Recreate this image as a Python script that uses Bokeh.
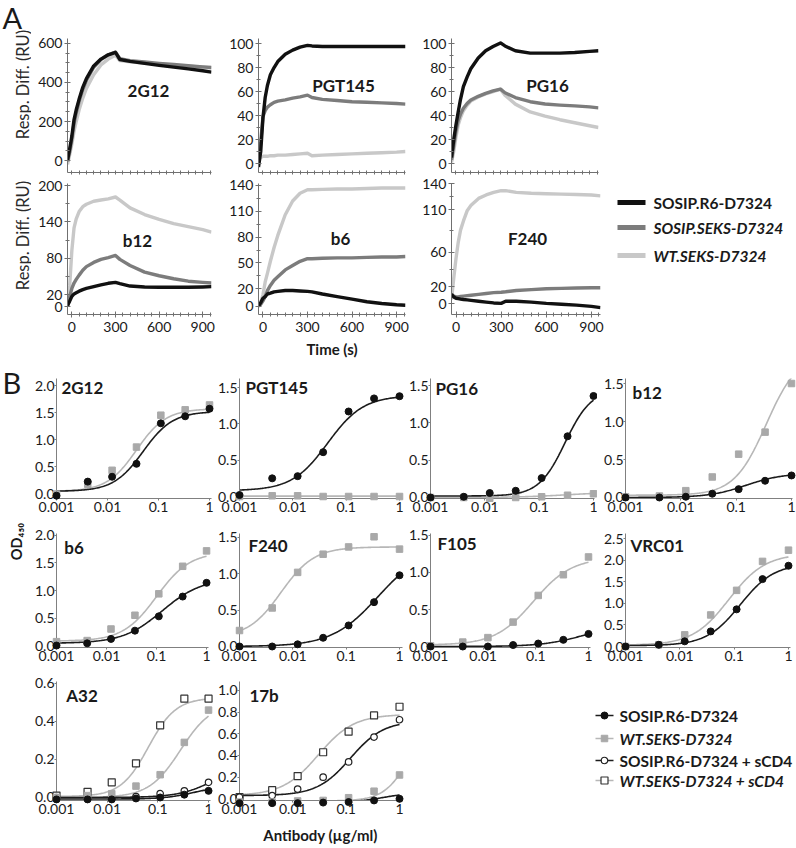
import numpy as np
from bokeh.plotting import figure
from bokeh.models import (Range1d, FixedTicker, PrintfTickFormatter, CustomJSTickFormatter,
                          Label, Spacer)
from bokeh.layouts import column, row
from bokeh.core.properties import value
from bokeh.embed import file_html
from bokeh.resources import INLINE

FONT = "Lato"
TEXT_COLOR = "#1a1a1a"
AXIS_COLOR = "#707070"

# ================= Panel A: SPR sensorgrams (Resp. Diff., RU) =================
TIME_S = [-30, -15, 0, 15, 30, 50, 75, 100, 150, 200, 250, 300, 330,
          400, 500, 600, 700, 800, 900, 960]
TIME_TICKS = [0, 300, 600, 900]
A_SERIES = ["SOSIP.R6-D7324", "SOSIP.SEKS-D7324", "WT.SEKS-D7324"]
A_COLORS = ["#111111", "#7c7c7c", "#c8c8c8"]

spr_2g12_r6 = [0, 60, 125, 210, 260, 315, 375, 420, 485, 520, 542, 554, 518, 508, 498, 488, 479, 470, 460, 453]
spr_2g12_seks = [-5, 45, 110, 190, 245, 305, 365, 410, 478, 518, 542, 556, 522, 512, 505, 498, 492, 486, 480, 477]
spr_2g12_wt = [-20, 30, 85, 150, 200, 260, 320, 370, 440, 490, 520, 540, 512, 506, 500, 494, 488, 483, 478, 475]

spr_pgt145_r6 = [-3, 10, 38, 55, 65, 74, 80, 85, 91, 94.5, 97, 98.5, 98, 97.5, 97.5, 97.5, 97.5, 97.5, 97.5, 97.5]
spr_pgt145_seks = [3, 18, 39, 44, 47, 49, 51, 52, 53, 54.5, 55.5, 57, 55, 53.5, 52.5, 51.5, 51, 50.5, 50, 49.5]
spr_pgt145_wt = [3, 5, 6, 6, 6, 6.5, 6.5, 7, 7, 7.5, 8, 8.5, 6.5, 7, 7.5, 8, 8.5, 9, 9.5, 10]

spr_pg16_r6 = [5, 20, 32, 43, 53, 64, 72, 79, 88, 94, 97.5, 100.5, 98, 94, 92, 92, 92, 92.5, 93.5, 94]
spr_pg16_seks = [3, 15, 27, 36, 41, 46, 50, 53, 56, 58.5, 60.5, 62, 59, 55, 51.5, 49.6, 48.7, 48, 47.2, 46.4]
spr_pg16_wt = [1, 10, 22, 32, 38, 44, 48.5, 52, 55.5, 58, 60, 62, 57, 49.5, 43, 39.5, 36.5, 34, 31.5, 30]

spr_b12_r6 = [2, 9, 17, 21, 23, 25.5, 28, 30, 33, 36, 38.5, 40, 38, 34, 32.5, 32, 32, 32, 32.5, 33]
spr_b12_seks = [0, 17, 30, 39, 45, 52, 60, 66, 73, 78, 81, 84.5, 78, 68, 57, 51, 46, 42, 40, 39]
spr_b12_wt = [0, 35, 93, 130, 145, 157, 165, 169, 174, 176, 178, 181, 176, 163, 152, 144, 137, 132, 127, 123]

spr_b6_r6 = [0, 4, 9, 11, 14, 15, 16.5, 17, 18, 18, 17.5, 17, 16.5, 14, 11, 8, 5, 3, 1.5, 1]
spr_b6_seks = [0, 2, 6, 11, 18, 24, 30, 34, 42, 47, 52, 55, 55, 55.5, 56, 56, 56.5, 57, 57, 57.5]
spr_b6_wt = [0, 4, 13, 28, 38, 52, 68, 82, 106, 122, 131, 135, 135, 135.5, 136, 136, 136.5, 137, 137, 137]

spr_f240_r6 = [11, 8, 6.5, 6, 5.5, 5, 4.5, 4, 3, 2, 1, 0.5, 3, 3, 2, 0.5, -0.5, -1.5, -3, -4.5]
spr_f240_seks = [11, 9, 8, 8, 8.5, 9, 9.5, 10, 11, 12, 13, 13.5, 14, 15.5, 16.5, 17.5, 18, 18.5, 18.7, 18.7]
spr_f240_wt = [5, 30, 53, 72, 86, 97, 109, 115, 123, 127, 130, 132, 132, 130, 129, 128.5, 128, 127.5, 127, 126]

A_DATA = {
    "2G12": (spr_2g12_r6, spr_2g12_seks, spr_2g12_wt),
    "PGT145": (spr_pgt145_r6, spr_pgt145_seks, spr_pgt145_wt),
    "PG16": (spr_pg16_r6, spr_pg16_seks, spr_pg16_wt),
    "b12": (spr_b12_r6, spr_b12_seks, spr_b12_wt),
    "b6": (spr_b6_r6, spr_b6_seks, spr_b6_wt),
    "F240": (spr_f240_r6, spr_f240_seks, spr_f240_wt),
}
A_YTICKS = {
    "2G12": [0, 200, 400, 600], "PGT145": [0, 20, 40, 60, 80, 100],
    "PG16": [0, 20, 40, 60, 80, 100], "b12": [0, 20, 80, 140, 200],
    "b6": [0, 20, 50, 80, 110, 140], "F240": [0, 20, 60, 110, 140],
}
A_YMINOR = {
    "2G12": [50, 100, 150, 250, 300, 350, 450, 500, 550], "PGT145": [10, 30, 50, 70, 90],
    "PG16": [10, 30, 50, 70, 90], "b12": [50, 110, 170],
    "b6": [35, 65, 95, 125], "F240": [40, 85, 125],
}

# ================= Panel B: ELISA (OD450) =================
CONC = [0.001, 0.0041, 0.0123, 0.037, 0.111, 0.333, 1.0]
X_TICKS = [0.001, 0.01, 0.1, 1]
B_SERIES = ["SOSIP.R6-D7324", "WT.SEKS-D7324", "SOSIP.R6-D7324 + sCD4", "WT.SEKS-D7324 + sCD4"]

od_2g12_r6 = [-0.04, 0.22, 0.31, 0.55, 1.30, 1.43, 1.57]
od_2g12_wt = [-0.01, 0.17, 0.43, 0.86, 1.45, 1.55, 1.64]
od_pgt145_r6 = [0.02, 0.25, 0.28, 0.61, 1.17, 1.35, 1.38]
od_pgt145_wt = [0.0, 0.01, 0.01, 0.0, 0.0, 0.0, 0.0]
od_pg16_r6 = [0.0, 0.01, 0.06, 0.09, 0.26, 0.82, 1.36]
od_pg16_wt = [0.0, 0.0, -0.01, 0.0, 0.01, 0.03, 0.05]
od_b12_r6 = [0.0, 0.0, 0.01, 0.05, 0.11, 0.22, 0.29]
od_b12_wt = [0.01, 0.02, 0.09, 0.27, 0.57, 0.86, 1.50]
od_b6_r6 = [0.0, 0.04, 0.12, 0.27, 0.53, 0.89, 1.14]
od_b6_wt = [0.07, 0.09, 0.30, 0.55, 0.94, 1.44, 1.72]
od_f240_r6 = [0.0, 0.0, 0.03, 0.12, 0.29, 0.61, 0.98]
od_f240_wt = [0.22, 0.53, 1.02, 1.27, 1.37, 1.51, 1.34]
od_f105_r6 = [0.0, 0.0, 0.0, 0.02, 0.04, 0.09, 0.17]
od_f105_wt = [0.01, 0.06, 0.12, 0.33, 0.69, 0.97, 1.21]
od_vrc01_r6 = [0.0, 0.04, 0.12, 0.35, 0.86, 1.56, 1.87]
od_vrc01_wt = [0.0, 0.04, 0.27, 0.73, 1.30, 1.97, 2.23]
od_a32_r6 = [-0.01, -0.01, -0.01, -0.005, 0.0, 0.015, 0.035]
od_a32_wt = [0.0, 0.01, 0.02, 0.06, 0.12, 0.29, 0.46]
od_a32_r6cd4 = [0.0, 0.0, 0.0, 0.005, 0.02, 0.035, 0.08]
od_a32_wtcd4 = [0.01, 0.03, 0.08, 0.18, 0.38, 0.52, 0.52]
od_17b_r6 = [-0.04, -0.04, -0.04, -0.035, -0.03, -0.015, 0.0]
od_17b_wt = [-0.03, -0.03, -0.02, -0.015, 0.01, 0.07, 0.22]
od_17b_r6cd4 = [0.015, 0.03, 0.09, 0.20, 0.34, 0.57, 0.73]
od_17b_wtcd4 = [0.015, 0.08, 0.21, 0.43, 0.62, 0.77, 0.85]

# fitted 4-parameter logistic curves: (bottom, top, EC50, Hill)
fit_2g12_r6 = (0.04, 1.52, 0.05, 1.5)
fit_2g12_wt = (0.04, 1.57, 0.037, 1.5)
fit_pgt145_r6 = (0.08, 1.39, 0.045, 1.3)
fit_pgt145_wt = (0.005, 0.005, 0.1, 1.0)
fit_pg16_r6 = (0.02, 1.45, 0.3, 1.8)
fit_pg16_wt = (0.0, 0.07, 0.3, 1.0)
fit_b12_r6 = (0.0, 0.32, 0.15, 1.3)
fit_b12_wt = (0.03, 1.9, 0.35, 1.5)
fit_b6_r6 = (0.04, 1.22, 0.13, 1.1)
fit_b6_wt = (0.08, 1.7, 0.1, 1.3)
fit_f240_r6 = (0.0, 1.38, 0.4, 1.0)
fit_f240_wt = (0.12, 1.37, 0.006, 1.4)
fit_f105_r6 = (0.0, 0.3, 0.8, 1.1)
fit_f105_wt = (0.02, 1.2, 0.09, 1.2)
fit_vrc01_r6 = (0.02, 1.92, 0.13, 1.4)
fit_vrc01_wt = (0.03, 2.15, 0.08, 1.3)
fit_a32_r6 = (-0.008, 0.06, 0.5, 1.5)
fit_a32_wt = (0.0, 0.5, 0.28, 1.4)
fit_a32_r6cd4 = (0.0, 0.2, 1.5, 1.2)
fit_a32_wtcd4 = (0.005, 0.525, 0.065, 1.6)
fit_17b_r6 = (-0.035, 0.06, 0.5, 1.5)
fit_17b_wt = (-0.02, 0.8, 1.6, 1.8)
fit_17b_r6cd4 = (0.03, 0.72, 0.12, 1.4)
fit_17b_wtcd4 = (0.03, 0.78, 0.03, 1.3)

B_DATA = {
    "2G12": [("r6", od_2g12_r6, fit_2g12_r6), ("wt", od_2g12_wt, fit_2g12_wt)],
    "PGT145": [("r6", od_pgt145_r6, fit_pgt145_r6), ("wt", od_pgt145_wt, fit_pgt145_wt)],
    "PG16": [("r6", od_pg16_r6, fit_pg16_r6), ("wt", od_pg16_wt, fit_pg16_wt)],
    "b12": [("r6", od_b12_r6, fit_b12_r6), ("wt", od_b12_wt, fit_b12_wt)],
    "b6": [("r6", od_b6_r6, fit_b6_r6), ("wt", od_b6_wt, fit_b6_wt)],
    "F240": [("r6", od_f240_r6, fit_f240_r6), ("wt", od_f240_wt, fit_f240_wt)],
    "F105": [("r6", od_f105_r6, fit_f105_r6), ("wt", od_f105_wt, fit_f105_wt)],
    "VRC01": [("r6", od_vrc01_r6, fit_vrc01_r6), ("wt", od_vrc01_wt, fit_vrc01_wt)],
    "A32": [("r6", od_a32_r6, fit_a32_r6), ("wt", od_a32_wt, fit_a32_wt),
            ("r6cd4", od_a32_r6cd4, fit_a32_r6cd4), ("wtcd4", od_a32_wtcd4, fit_a32_wtcd4)],
    "17b": [("r6", od_17b_r6, fit_17b_r6), ("wt", od_17b_wt, fit_17b_wt),
            ("r6cd4", od_17b_r6cd4, fit_17b_r6cd4), ("wtcd4", od_17b_wtcd4, fit_17b_wtcd4)],
}
B_YTICKS = {
    "2G12": [0, 0.5, 1, 1.5, 2], "PGT145": [0, 0.5, 1, 1.5], "PG16": [0, 0.5, 1, 1.5],
    "b12": [0, 0.5, 1, 1.5], "b6": [0, 0.5, 1, 1.5, 2], "F240": [0, 0.5, 1, 1.5],
    "F105": [0, 0.5, 1, 1.5], "VRC01": [0, 0.5, 1, 1.5, 2, 2.5],
    "A32": [0, 0.2, 0.4, 0.6], "17b": [0, 0.2, 0.4, 0.6, 0.8, 1.0],
}

B_STYLE = {
    "r6": dict(marker="circle", size=7, fill="#111111", line="#111111", lw=1, curve="#1c1c1c"),
    "wt": dict(marker="square", size=6.5, fill="#a9a9a9", line="#a9a9a9", lw=1, curve="#b7b7b7"),
    "r6cd4": dict(marker="circle", size=6.5, fill="white", line="#222222", lw=1.2, curve="#1c1c1c"),
    "wtcd4": dict(marker="square", size=7, fill="white", line="#333333", lw=1.2, curve="#b7b7b7"),
}

# ================= layout geometry (page pixels) =================
# (page x0, page y0, width, height, left, right, top, bottom borders), y range
A_GEOM = {
    "2G12": ((31, 0, 190, 176, 36, 10, 38, 4), (-61.5, 625.6)),
    "PGT145": ((221, 0, 194, 176, 37, 10, 38, 4), (-7.5, 104.2)),
    "PG16": ((415, 0, 193, 176, 36, 10, 38, 4), (-7.5, 104.2)),
    "b12": ((31, 176, 190, 196, 36, 10, 7, 58), (-13.0, 203.3)),
    "b6": ((221, 176, 194, 196, 37, 10, 7, 58), (-9.8, 142.3)),
    "F240": ((415, 176, 193, 196, 36, 8, 7, 58), (-12.5, 140.4)),
}
A_TITLE_POS = {"2G12": (148, 90), "PGT145": (343, 85), "PG16": (547, 85),
               "b12": (137, 240), "b6": (340, 238), "F240": (527, 238)}

# (page x0, page y0, width, height, L, R, T, B), x max (log axis), y range
B_GEOM = {
    "2G12": ((31, 372, 183, 153, 22, 3, 6, 27), 1.093, (-0.0926, 2.130)),
    "PGT145": ((214, 372, 191, 153, 23, 3, 6, 27), 1.137, (-0.0275, 1.624)),
    "PG16": ((405, 372, 192, 153, 25, 3, 6, 27), 1.043, (-0.0134, 1.594)),
    "b12": ((597, 372, 199, 153, 28, 4, 6, 27), 1.043, (-0.0132, 1.566)),
    "b6": ((31, 525, 183, 148, 22, 6, 8, 26), 1.094, (-0.036, 2.036)),
    "F240": ((214, 525, 191, 148, 23, 3, 8, 26), 1.137, (-0.0138, 1.555)),
    "F105": ((405, 525, 192, 148, 25, 7, 8, 26), 1.091, (-0.0135, 1.527)),
    "VRC01": ((597, 525, 199, 148, 28, 6, 8, 26), 1.089, (-0.0231, 2.616)),
    "A32": ((31, 673, 183, 175, 22, 4, 8, 48), 1.093, (-0.0158, 0.6105)),
    "17b": ((214, 673, 196, 175, 23, 9, 8, 48), 1.089, (-0.0157, 1.083)),
}
B_TITLE_POS = {"2G12": (58, 387), "PGT145": (243, 387), "PG16": (435, 388), "b12": (632, 392),
               "b6": (61, 547), "F240": (246, 545), "F105": (437, 543), "VRC01": (630, 545),
               "A32": (63, 695), "17b": (247, 695)}

STRIP_W = 31
PAGE_H = 848

# legend layout (page pixels)
LEG_A_BOX = (608, 176, 188, 196, 7, 58)       # x0, y0, w, h, top, bottom border
LEG_A_KEY_X = (617, 645)
LEG_A_TEXT_X = 653
LEG_A_ROW_Y = [202, 227, 255]
LEG_A_STYLE = ["bold", "bold italic", "bold italic"]

LEG_B_BOX = (410, 673, 386, 175, 8, 48)
LEG_B_KEY_X = (595, 613)
LEG_B_MARK_X = 604
LEG_B_TEXT_X = 619
LEG_B_ROW_Y = [715, 738, 760, 780]
LEG_B_STYLE = ["bold", "bold italic", "bold", "bold italic"]


def px2data(info, cx, cy):
    (x0p, y0p, w, h, L, R, T, B), x0, x1, y0, y1, xlog = info
    fw, fh = w - L - R, h - T - B
    fx = (cx - x0p - L) / fw
    if xlog:
        lx0, lx1 = np.log10(x0), np.log10(x1)
        x = 10 ** (lx0 + fx * (lx1 - lx0))
    else:
        x = x0 + fx * (x1 - x0)
    fy = (cy - y0p - T) / fh
    y = y1 - fy * (y1 - y0)
    return float(x), float(y)


def put_text(p, info, text, cx, cy, size, style="normal", align="left", baseline="middle"):
    x, y = px2data(info, cx, cy)
    p.add_layout(Label(x=x, y=y, x_units="data", y_units="data", text=text,
                       text_font=FONT, text_font_size=f"{size}px", text_font_style=style,
                       text_align=align, text_baseline=baseline, text_color=TEXT_COLOR))


def base_fig(geom, xr, yr, xlog=False):
    x0p, y0p, w, h, L, R, T, B = geom
    p = figure(width=w, height=h, x_range=Range1d(*xr), y_range=Range1d(*yr),
               x_axis_type="log" if xlog else "linear",
               min_border_left=L, min_border_right=R, min_border_top=T, min_border_bottom=B,
               output_backend="svg", toolbar_location=None, title=None)
    p.outline_line_color = None
    p.grid.visible = False
    p.background_fill_color = "white"
    p.border_fill_color = "white"
    for ax in p.axis:
        ax.axis_line_color = AXIS_COLOR
        ax.major_tick_line_color = AXIS_COLOR
        ax.minor_tick_line_color = AXIS_COLOR
        ax.major_label_text_font = FONT
        ax.major_label_text_color = TEXT_COLOR
        ax.axis_label_text_font = FONT
        ax.axis_label_text_color = TEXT_COLOR
    return p


def blank_fig(w, h, xr, yr, top=0, bottom=0):
    p = figure(width=w, height=h, x_range=Range1d(*xr), y_range=Range1d(*yr),
               min_border_left=0, min_border_right=0, min_border_top=top,
               min_border_bottom=bottom, x_axis_location=None, y_axis_location=None,
               output_backend="svg", toolbar_location=None, title=None)
    p.outline_line_color = None
    p.grid.visible = False
    return p


# ---------------- Panel A figures ----------------
figA = {}
for name, (geom, yr) in A_GEOM.items():
    xr = (-30, 960)
    p = base_fig(geom, xr, yr)
    info = (geom, xr[0], xr[1], yr[0], yr[1], False)
    top_row = name in ("2G12", "PGT145", "PG16")
    if top_row:
        p.xaxis.ticker = FixedTicker(ticks=[], minor_ticks=list(range(0, 951, 50)))
        p.xaxis.major_label_standoff = 0
    else:
        p.xaxis.ticker = FixedTicker(ticks=TIME_TICKS,
                                     minor_ticks=[t for t in range(0, 951, 50) if t not in TIME_TICKS])
        p.xaxis.major_label_standoff = 4
    p.yaxis.ticker = FixedTicker(ticks=A_YTICKS[name], minor_ticks=A_YMINOR[name])
    p.yaxis.major_label_standoff = 2
    for ax in p.axis:
        ax.major_tick_in = 3
        ax.major_tick_out = 3
        ax.minor_tick_in = 2
        ax.minor_tick_out = 2
        ax.major_label_text_font_size = "14px"
    r6, seks, wt = A_DATA[name]
    for vals, col in ((wt, A_COLORS[2]), (seks, A_COLORS[1]), (r6, A_COLORS[0])):
        p.line(TIME_S, vals, line_color=col, line_width=3.4, line_join="round")
    tx, ty = A_TITLE_POS[name]
    put_text(p, info, name, tx, ty, 17, style="bold", align="center")
    if name == "b6":
        p.xaxis.axis_label = "Time (s)"
        p.xaxis.axis_label_text_font_size = "15px"
        p.xaxis.axis_label_text_font_style = "bold"
        p.xaxis.axis_label_standoff = 5
    figA[name] = p

# legend for panel A (frame spans the legend area, coordinates in page pixels)
lx0, ly0, lw, lh, lt, lb = LEG_A_BOX
legA = blank_fig(lw, lh, (lx0, lx0 + lw), (ly0 + lh - lb, ly0 + lt), top=lt, bottom=lb)
for lab, col, cy, st in zip(A_SERIES, A_COLORS, LEG_A_ROW_Y, LEG_A_STYLE):
    legA.line(list(LEG_A_KEY_X), [cy, cy], line_color=col, line_width=5)
    legA.text(x=[LEG_A_TEXT_X], y=[cy], text=[lab], text_font=value(FONT),
              text_font_size="15.5px", text_font_style=st, text_color=TEXT_COLOR,
              text_baseline="middle", text_align="left")

# ---------------- Panel B figures ----------------
xs_fit = np.logspace(-3, 0, 150)


def four_pl(params, x):
    b, t, ec, hl = params
    return b + (t - b) / (1.0 + (ec / x) ** hl)


figB = {}
for name, (geom, xmax, yr) in B_GEOM.items():
    xr = (0.001, xmax)
    p = base_fig(geom, xr, yr, xlog=True)
    info = (geom, xr[0], xr[1], yr[0], yr[1], True)
    p.xaxis.ticker = FixedTicker(ticks=X_TICKS)
    p.xaxis.formatter = CustomJSTickFormatter(code="return tick.toString();")
    p.yaxis.ticker = FixedTicker(ticks=B_YTICKS[name])
    p.yaxis.formatter = PrintfTickFormatter(format="%.1f")
    for ax in p.axis:
        ax.axis_line_color = "#808080"
        ax.major_tick_line_color = "#808080"
        ax.minor_tick_line_color = None
        ax.major_tick_in = 0
        ax.major_tick_out = 2
        ax.major_label_text_font_size = "14px"
    p.xaxis.major_label_standoff = 1
    p.yaxis.major_label_standoff = 0
    series = B_DATA[name]
    for kind, vals, fit in sorted(series, key=lambda s: 1 if s[0] in ("r6", "r6cd4") else 0):
        st = B_STYLE[kind]
        p.line(xs_fit, four_pl(fit, xs_fit), line_color=st["curve"], line_width=1.6)
    for kind, vals, fit in series[::-1]:
        st = B_STYLE[kind]
        r = p.scatter(CONC, vals, marker=st["marker"], size=st["size"], fill_color=st["fill"],
                      line_color=st["line"], line_width=st["lw"])
        r.level = "overlay"
    tx, ty = B_TITLE_POS[name]
    put_text(p, info, name, tx, ty, 17, style="bold", align="left")
    if name == "17b":
        p.xaxis.axis_label = "Antibody (\u00b5g/ml)"
        p.xaxis.axis_label_text_font_size = "15px"
        p.xaxis.axis_label_text_font_style = "bold"
        p.xaxis.axis_label_standoff = 9
    figB[name] = p

# legend for panel B
lx0, ly0, lw, lh, lt, lb = LEG_B_BOX
legB = blank_fig(lw, lh, (lx0, lx0 + lw), (ly0 + lh - lb, ly0 + lt), top=lt, bottom=lb)
for lab, kind, cy, fs in zip(B_SERIES, ["r6", "wt", "r6cd4", "wtcd4"], LEG_B_ROW_Y, LEG_B_STYLE):
    st = B_STYLE[kind]
    legB.line(list(LEG_B_KEY_X), [cy, cy], line_color=st["curve"], line_width=1.6)
    legB.scatter([LEG_B_MARK_X], [cy], marker=st["marker"], size=st["size"],
                 fill_color=st["fill"], line_color=st["line"], line_width=st["lw"])
    legB.text(x=[LEG_B_TEXT_X], y=[cy], text=[lab], text_font=value(FONT),
              text_font_size="15.5px", text_font_style=fs, text_color=TEXT_COLOR,
              text_baseline="middle", text_align="left")

# ---------------- left strip with panel letters and y-axis titles ----------------
strip = blank_fig(STRIP_W, PAGE_H, (0, STRIP_W), (PAGE_H, 0))
strip.text(x=[2, 2], y=[17, 382], text=["A", "B"], text_font=value(FONT),
           text_font_size="29px", text_color=TEXT_COLOR, text_baseline="middle",
           text_align="left")
strip.text(x=[22, 22], y=[84, 235], text=["Resp. Diff. (RU)", "Resp. Diff. (RU)"],
           text_font=value(FONT), text_font_size="16.5px", text_color="#2a2a2a",
           text_baseline="middle", text_align="center", angle=np.pi / 2)
strip.text(x=[16], y=[541], text=["OD\u2084\u2085\u2080"], text_font=value(FONT),
           text_font_size="14.5px", text_font_style="bold", text_color=TEXT_COLOR,
           text_baseline="middle", text_align="center", angle=np.pi / 2)

rowA1 = row(figA["2G12"], figA["PGT145"], figA["PG16"], Spacer(width=188, height=176))
rowA2 = row(figA["b12"], figA["b6"], figA["F240"], legA)
rowB1 = row(figB["2G12"], figB["PGT145"], figB["PG16"], figB["b12"])
rowB2 = row(figB["b6"], figB["F240"], figB["F105"], figB["VRC01"])
rowB3 = row(figB["A32"], figB["17b"], legB)
page = row(strip, column(rowA1, rowA2, rowB1, rowB2, rowB3))

open("out.html", "w").write(file_html(page, INLINE))
